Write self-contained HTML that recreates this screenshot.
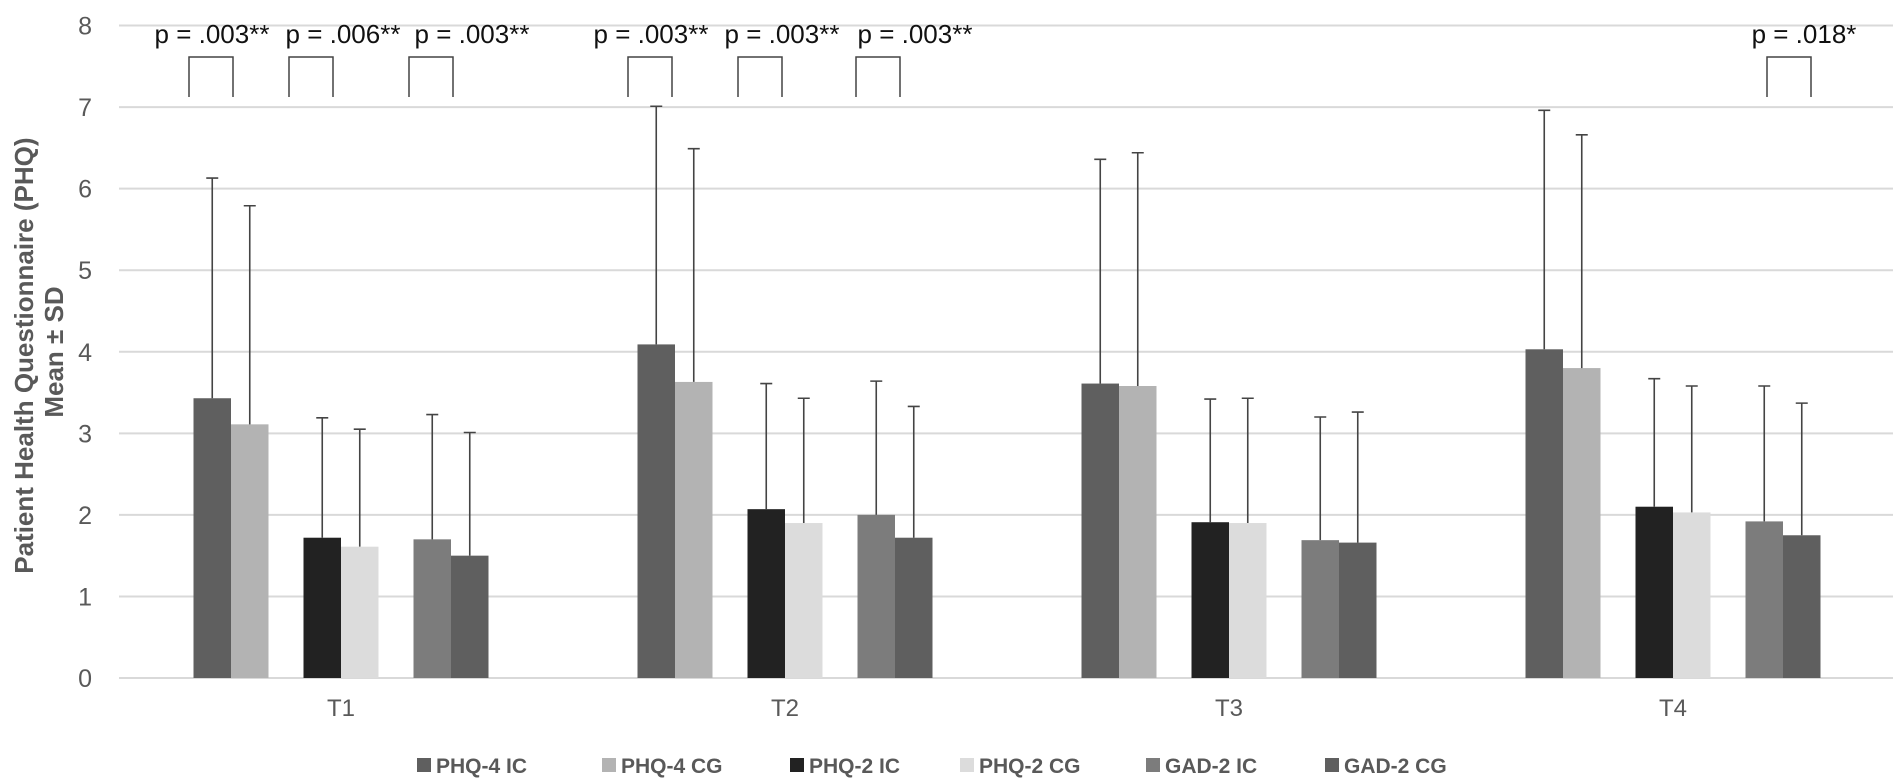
<!DOCTYPE html>
<html><head><meta charset="utf-8">
<style>
html,body{margin:0;padding:0;background:#fff;}
svg{display:block;font-family:"Liberation Sans",Arial,sans-serif;}
</style></head>
<body>
<svg id="chart" width="1902" height="784" viewBox="0 0 1902 784">
  <g id="grid"></g>
  <g id="yticks"></g>
  <g id="bars"></g>
  <g id="errs"></g>
  <g id="ann"></g>
  <g id="xlabels"></g>
  <g id="legend"></g>
  <text transform="translate(33,352) rotate(-90)" text-anchor="middle" font-size="26" font-weight="bold" fill="#595959">
    <tspan x="0" dy="0">Patient Health Questionnaire (PHQ)</tspan>
    <tspan x="0" dy="30">Mean ± SD</tspan>
  </text>
</svg>
<script>
const categories = ["T1","T2","T3","T4"];
const seriesNames = ["PHQ-4 IC","PHQ-4 CG","PHQ-2 IC","PHQ-2 CG","GAD-2 IC","GAD-2 CG"];
const phq4IC = [3.43,4.09,3.61,4.03];
const phq4ICsd = [2.70,2.92,2.75,2.93];
const phq4CG = [3.11,3.63,3.58,3.80];
const phq4CGsd = [2.68,2.86,2.86,2.86];
const phq2IC = [1.72,2.07,1.91,2.10];
const phq2ICsd = [1.47,1.54,1.51,1.57];
const phq2CG = [1.61,1.90,1.90,2.03];
const phq2CGsd = [1.44,1.53,1.53,1.55];
const gad2IC = [1.70,2.00,1.69,1.92];
const gad2ICsd = [1.53,1.64,1.51,1.66];
const gad2CG = [1.50,1.72,1.66,1.75];
const gad2CGsd = [1.51,1.61,1.60,1.62];
const yTicks = [0,1,2,3,4,5,6,7,8];
const pLabels = ["p = .003**","p = .006**","p = .003**","p = .003**","p = .003**","p = .003**","p = .018*"];
const pCategory = [0,0,0,1,1,1,3];
const pPair = [0,1,2,0,1,2,2];

const means=[phq4IC,phq4CG,phq2IC,phq2CG,gad2IC,gad2CG];
const sds=[phq4ICsd,phq4CGsd,phq2ICsd,phq2CGsd,gad2ICsd,gad2CGsd];
const colors=["#5f5f5f","#b3b3b3","#222222","#dcdcdc","#7c7c7c","#5f5f5f"];
const NS="http://www.w3.org/2000/svg";
const X0=119,CW=444,Y0=678,Y8=25.5,BW=37.5,PAIR=110;
const y=v=>Y0-(Y0-Y8)*v/8;
const catC=i=>X0+CW*(i+0.5);
function mk(tag,attrs,parent){const e=document.createElementNS(NS,tag);for(const k in attrs)e.setAttribute(k,attrs[k]);parent.appendChild(e);return e;}
const G=id=>document.getElementById(id);

yTicks.forEach(t=>{
  const l=mk('line',{x1:X0,x2:1893,y1:y(t),y2:y(t),stroke:'#d9d9d9','stroke-width':2},G('grid'));
  
  
  const tx=mk('text',{x:92,y:y(t)+9,'text-anchor':'end','font-size':25,fill:'#595959'},G('yticks'));
  tx.textContent=t;
  
  
});

categories.forEach((c,ci)=>{
  means.forEach((arr,si)=>{
    const pc=catC(ci)+(Math.floor(si/2)-1)*PAIR;
    const x=pc+(si%2===0?-BW:0);
    const r=mk('rect',{x:x,y:y(arr[ci]),width:BW,height:Y0-y(arr[ci]),fill:colors[si]},G('bars'));
    
    
    const cx=x+BW/2, top=y(arr[ci]+sds[si][ci]);
    const eb=mk('path',{d:`M${cx},${y(arr[ci])}V${top}M${cx-6},${top}H${cx+6}`,stroke:'#444',fill:'none','stroke-width':1.6},G('errs'));
    
    
  });
  const t=mk('text',{x:catC(ci),y:716,'text-anchor':'middle','font-size':24,fill:'#595959'},G('xlabels'));
  t.textContent=c;
  
  
});

const bracketOff=[-20,-30,-20,-25,-25,-17,6];
const labelOff=[1,32,41,1,22,37,15];
pLabels.forEach((p,i)=>{
  const bc=catC(pCategory[i])+(pPair[i]-1)*PAIR+bracketOff[i];
  const b=mk('path',{d:`M${bc-22},97V57H${bc+22}V97`,stroke:'#444',fill:'none','stroke-width':1.5},G('ann'));
  
  
  const t=mk('text',{x:bc+labelOff[i],y:43,'text-anchor':'middle','font-size':26,fill:'#111'},G('ann'));
  t.textContent=p;
  
  
});

const legX=[417,602,790,960,1146,1325];
seriesNames.forEach((n,i)=>{
  const g=mk('g',{},G('legend'));
  
  
  mk('rect',{x:legX[i],y:758,width:14,height:14,fill:colors[i]},g);
  const t=mk('text',{x:legX[i]+19,y:773,'font-size':21,'font-weight':'bold',fill:'#595959'},g);
  t.textContent=n;
});
</script>
</body></html>
